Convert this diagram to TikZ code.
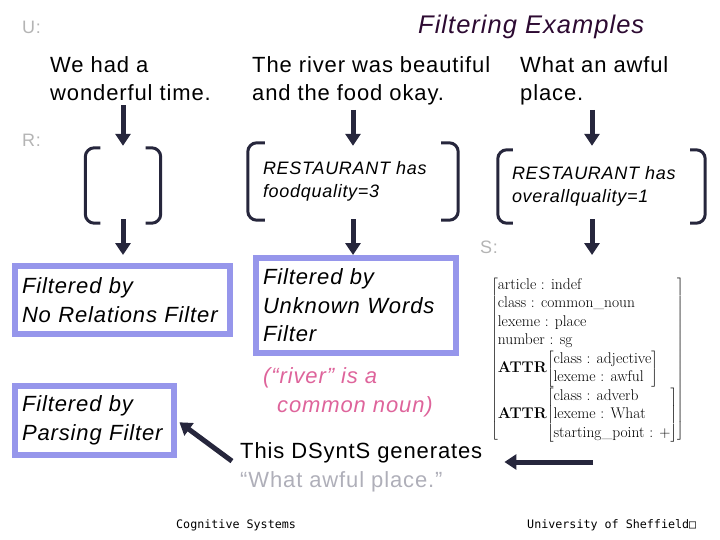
\documentclass[tikz,border=0pt]{standalone}
\usepackage{fontspec}
\usetikzlibrary{arrows.meta}
\newfontfamily\arialf[LetterSpace=4]{Liberation Sans}
\newfontfamily\monof{DejaVu Sans Mono}
\definecolor{arrowc}{RGB}{38,38,60}
\definecolor{boxc}{RGB}{150,150,235}
\definecolor{titlec}{RGB}{45,10,50}
\definecolor{labc}{RGB}{180,180,180}
\definecolor{pinkc}{RGB}{222,100,155}
\definecolor{grayt}{RGB}{175,175,185}
\begin{document}
\begin{tikzpicture}[x=1pt,y=-1pt,
  arr/.style={draw=arrowc, line width=5pt, -{Triangle[width=15pt,length=12pt]}},
  brk/.style={draw=arrowc, line width=3pt, rounded corners=9pt},
  sent/.style={anchor=base west, inner sep=0pt, align=left, font=\arialf\fontsize{22}{28.5}\selectfont},
  lab/.style={anchor=base west, inner sep=0pt, text=labc, font=\arialf\fontsize{18}{20}\selectfont},
  filtbox/.style={draw=boxc, line width=6pt, inner xsep=7pt, inner ysep=0pt, align=left, font=\arialf\itshape\fontsize{22}{28.5}\selectfont},
  rbox/.style={inner xsep=15pt, inner ysep=0pt, align=left, font=\arialf\itshape\fontsize{18}{23}\selectfont},
]
\useasboundingbox (0,0) rectangle (720,540);

% labels
\node[lab] (lu) at (22,34) {U:};
\node[lab] (lr) at (22,147) {R:};
\node[lab] (ls) at (480,254) {S:};
\node[anchor=base west, inner sep=0pt, text=titlec, font=\arialf\itshape\fontsize{25.5}{30}\selectfont] (title) at (418,34) {Filtering Examples};

% sentences (base anchor = last line)
\node[sent] (u1) at (50,101) {We had a\\wonderful time.};
\node[sent] (u2) at (252,101) {The river was beautiful\\and the food okay.};
\node[sent] (u3) at (520,101) {What an awful\\place.};

% representations
\node[minimum width=75pt, minimum height=75pt, inner sep=0pt] (r1) at (123,185.5) {};
\node[rbox, text width=180pt, minimum height=77pt] (r2) at (353,181.5) {RESTAURANT has\\foodquality=3};
\node[rbox, inner xsep=14pt, text width=179pt, minimum height=73pt] (r3) at (601.5,186.5) {RESTAURANT has\\overallquality=1};
\foreach \n/\s in {r1/15,r2/17,r3/15}{
  \draw[brk] ([xshift=\s pt]\n.north west) -- (\n.north west) -- (\n.south west) -- ([xshift=\s pt]\n.south west);
  \draw[brk] ([xshift=-\s pt]\n.north east) -- (\n.north east) -- (\n.south east) -- ([xshift=-\s pt]\n.south east);
}

% filter boxes
\node[filtbox, text width=201pt, minimum height=68pt] (f1) at (122.5,300) {Filtered by\\No Relations Filter};
\node[filtbox, text width=186pt, minimum height=95pt] (f2) at (356,305.5) {Filtered by\\Unknown Words\\Filter};
\node[filtbox, text width=145pt, minimum height=69pt] (f3) at (94.5,420.5) {Filtered by\\Parsing Filter};

% note
\node[anchor=base west, inner sep=0pt, align=left, text=pinkc, font=\arialf\itshape\fontsize{22}{29}\selectfont] (note) at (263,412) {(“river” is a\\\hspace*{14pt}common noun)};

% generation text
\node[sent] (gen) at (240,487) {This DSyntS generates\\\textcolor{grayt}{“What awful place.”}};

% AVM
\node[anchor=north west, inner sep=0pt, font=\fontsize{15.5}{18.5}\selectfont] (avm) at (491,276) {$\left[\begin{tabular}{@{}l@{}}
article : indef\\
class : common\_noun\\
lexeme : place\\
number : sg\\
\textbf{ATTR}$\left[\begin{tabular}{@{}l@{}}class : adjective\\lexeme : awful\end{tabular}\right]$\\
\textbf{ATTR}$\left[\begin{tabular}{@{}l@{}}class : adverb\\lexeme : What\\starting\_point : +\end{tabular}\right]$
\end{tabular}\right]$};

% footer
\node[anchor=base west, inner sep=0pt, font=\monof\fontsize{11.7}{14}\selectfont] (foot1) at (176,528) {Cognitive Systems};
\node[anchor=base west, inner sep=0pt, font=\monof\fontsize{11.7}{14}\selectfont] (foot2) at (527,528) {University of Sheffield□};

% arrows
\draw[arr, shorten <=4pt, shorten >=2pt] (r1.north |- u1.south) -- (r1.north);
\draw[arr, shorten <=4pt, shorten >=-3pt] (r2.north |- u2.south) -- (r2.north);
\draw[arr, shorten <=4pt, shorten >=4pt] ([xshift=-9.5pt]r3.north |- u3.south) -- ([xshift=-9.5pt]r3.north);
\draw[arr, shorten <=-4pt, shorten >=8pt] (r1.south) -- (r1.south |- f1.north);
\draw[arr, shorten <=-1pt, shorten >=0pt] (r2.south) -- (r2.south |- f2.north);
\draw[arr, shorten <=-4pt, shorten >=21pt] ([xshift=-9.5pt]r3.south) -- ([xshift=-9.5pt]r3.south |- avm.north);
\draw[arr, shorten <=10pt, shorten >=3pt] (gen.west) -- (f3.east);
\coordinate (atail) at (593,462);
\draw[arr, shorten >=22pt] (atail) -- (atail -| gen.east);
\end{tikzpicture}
\end{document}
